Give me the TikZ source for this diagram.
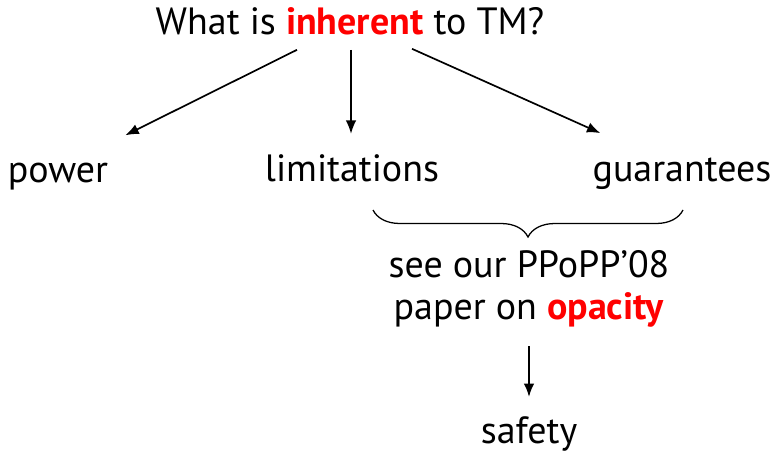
\documentclass[tikz,border=0pt]{standalone}
\usepackage{fontspec}
\setmainfont{PT Sans}
\usetikzlibrary{positioning,arrows.meta,decorations.pathreplacing}
\definecolor{hot}{HTML}{FF0000}

\begin{document}
\begin{tikzpicture}[x=0.025cm,y=-0.025cm,
    word/.style={font=\fontsize{27}{33}\selectfont, inner sep=0pt, anchor=base},
    link/.style={-{Latex[length=9.5pt,width=7.5pt]}, line width=1.2pt}]
    \useasboundingbox (0,0) rectangle (776,453);

    % Question on top
    \node[word] (question) at (350,35) {What is \textcolor{hot}{\textbf{inherent}} to TM?};

    % Three branches
    \node[word] (power) at (58,182) {power};
    \node[word] (limits) at (352,181) {limitations};
    \node[word] (guar) at (682,181) {guarantees};

    \draw[link] ([shift={(-53,14)}]question.south) -- ([shift={(17,-27)}]power.north east);
    \draw[link] ([shift={(1,14)}]question.south) -- ([shift={(-1,-20)}]limits.north);
    \draw[link] ([shift={(62,13)}]question.south) -- ([shift={(8,-24)}]guar.north west);

    % Brace and the paper note
    \coordinate (braceL) at (373,210);
    \coordinate (braceR) at (683,210);
    \draw[line width=0.9pt, decorate, decoration={brace, mirror, amplitude=0.675cm}] (braceL) -- (braceR);

    \node[word] (see) at (529,277) {see our PPoPP’08};
    \node[word] (paper) at (529,319) {paper on \textcolor{hot}{\textbf{opacity}}};

    % Safety
    \node[word] (safety) at (529,443) {safety};
    \draw[link] ([yshift=-19*0.025cm]paper.south) -- ([yshift=19*0.025cm]safety.north);
\end{tikzpicture}
\end{document}
